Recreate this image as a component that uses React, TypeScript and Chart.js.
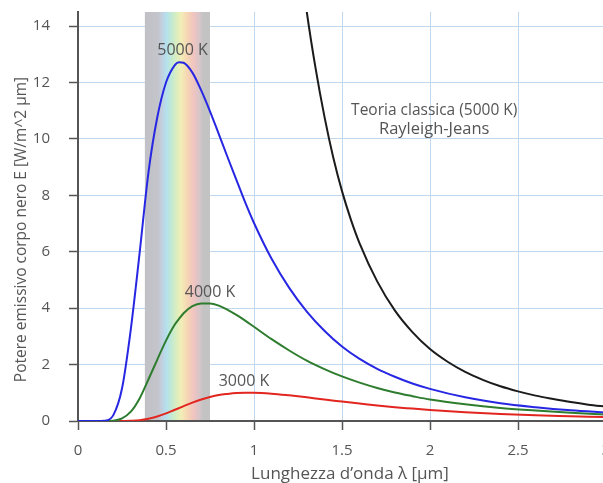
import React, { useEffect, useRef } from "react";
import { Chart, registerables } from "chart.js";

Chart.register(...registerables);

// Wavelength samples (µm) shared by the three Planck curves
const wavelengths = [
  0, 0.05, 0.1, 0.15, 0.2, 0.25, 0.3, 0.35, 0.4, 0.45, 0.5, 0.55, 0.575, 0.6, 0.65, 0.7, 0.75,
  0.8, 0.85, 0.9, 0.95, 1.0, 1.1, 1.2, 1.3, 1.4, 1.5, 1.6, 1.7, 1.8, 1.9, 2.0, 2.2, 2.4, 2.6,
  2.8, 3.0,
];
// Emissive power
const e5000 = [
  0, 0, 0, 0.01, 0.2, 1.15, 3.25, 5.95, 8.8, 10.75, 12.0, 12.62, 12.72, 12.7, 12.35, 11.72,
  10.98, 10.17, 9.35, 8.55, 7.75, 7.02, 5.75, 4.72, 3.88, 3.2, 2.64, 2.2, 1.85, 1.57, 1.33,
  1.14, 0.84, 0.63, 0.49, 0.38, 0.3,
];
const e4000 = [
  0, 0, 0, 0, 0.01, 0.09, 0.33, 0.8, 1.47, 2.17, 2.85, 3.42, 3.63, 3.82, 4.07, 4.17, 4.17,
  4.09, 3.94, 3.76, 3.56, 3.34, 2.9, 2.5, 2.14, 1.84, 1.58, 1.36, 1.17, 1.01, 0.88, 0.76, 0.59,
  0.46, 0.37, 0.29, 0.23,
];
const e3000 = [
  0, 0, 0, 0, 0, 0, 0.01, 0.03, 0.08, 0.16, 0.27, 0.4, 0.46, 0.53, 0.65, 0.76, 0.85, 0.92,
  0.96, 0.99, 1.0, 1.0, 0.97, 0.91, 0.84, 0.76, 0.69, 0.62, 0.55, 0.49, 0.44, 0.39, 0.31, 0.25,
  0.2, 0.17, 0.14,
];
// Rayleigh-Jeans (classical theory, 5000 K)
const rjWavelengths = [
  1.25, 1.3, 1.35, 1.4, 1.45, 1.5, 1.55, 1.6, 1.7, 1.8, 1.9, 2.0, 2.1, 2.2, 2.3, 2.4, 2.5,
  2.6, 2.7, 2.8, 2.9, 3.0,
];
const rj5000 = [
  16.9, 14.5, 12.5, 10.8, 9.35, 8.15, 7.15, 6.3, 4.95, 3.92, 3.15, 2.55, 2.1, 1.74, 1.46, 1.23,
  1.05, 0.9, 0.78, 0.67, 0.58, 0.51,
];

const xTicks = [0, 0.5, 1, 1.5, 2, 2.5, 3];
const yTicks = [0, 2, 4, 6, 8, 10, 12, 14];
const visibleBand = [0.38, 0.75];

const curveLabels = [
  { text: "5000 K", x: 0.594, y: 13.12, size: 16 },
  { text: "4000 K", x: 0.75, y: 4.57, size: 16 },
  { text: "3000 K", x: 0.943, y: 1.42, size: 16 },
  { text: "Teoria classica (5000 K)", x: 2.024, y: 11.02, size: 15.5 },
  { text: "Rayleigh-Jeans", x: 2.024, y: 10.35, size: 16.5 },
];

const FONT = "'Open Sans', 'Noto Sans', sans-serif";
const TEXT = "#555";
const GRID = "#bfd8ee";

const bandPlugin = {
  id: "band",
  beforeDatasetsDraw(chart: any) {
    const { ctx, chartArea, scales } = chart;
    const x0 = scales.x.getPixelForValue(visibleBand[0]);
    const x1 = scales.x.getPixelForValue(visibleBand[1]);
    const g = ctx.createLinearGradient(x0, 0, x1, 0);
    g.addColorStop(0, "#c0c0c6");
    g.addColorStop(0.2, "#c4c4cb");
    g.addColorStop(0.27, "#c0d2e2");
    g.addColorStop(0.33, "#b4e0ee");
    g.addColorStop(0.4, "#c0e9d6");
    g.addColorStop(0.48, "#d8eec0");
    g.addColorStop(0.56, "#f2edb6");
    g.addColorStop(0.65, "#f6d6b4");
    g.addColorStop(0.75, "#f0c4c1");
    g.addColorStop(0.84, "#d6c5c9");
    g.addColorStop(0.9, "#c3c3c4");
    g.addColorStop(1, "#c3c3c4");
    ctx.save();
    ctx.fillStyle = g;
    ctx.fillRect(x0, chartArea.top, x1 - x0, chartArea.bottom - chartArea.top - 1);
    ctx.restore();
  },
};

const textPlugin = {
  id: "texts",
  afterDatasetsDraw(chart: any) {
    const { ctx, scales, chartArea } = chart;
    ctx.save();
    ctx.fillStyle = TEXT;
    ctx.textAlign = "center";
    ctx.textBaseline = "middle";
    for (const l of curveLabels) {
      ctx.font = `${l.size}px ${FONT}`;
      ctx.fillText(l.text, scales.x.getPixelForValue(l.x), scales.y.getPixelForValue(l.y));
    }
    // x axis title
    ctx.font = `17px ${FONT}`;
    ctx.fillText("Lunghezza d’onda λ [µm]", (chartArea.left + chartArea.right) / 2 + 8, chartArea.bottom + 53);
    // y axis title
    ctx.font = `15.5px ${FONT}`;
    ctx.translate(chartArea.left - 56, (chartArea.top + chartArea.bottom) / 2 + 13);
    ctx.rotate(-Math.PI / 2);
    ctx.fillText("Potere emissivo corpo nero E [W/m^2 µm]", 0, 0);
    ctx.restore();
  },
};

export default function App() {
  const ref = useRef<HTMLCanvasElement | null>(null);
  useEffect(() => {
    if (!ref.current) return;
    const mk = (xs: number[], ys: number[]) => xs.map((x, i) => ({ x, y: ys[i] }));
    const common = {
      borderWidth: 2,
      pointRadius: 0,
      fill: false,
      cubicInterpolationMode: "monotone" as const,
    };
    const chart = new Chart(ref.current, {
      type: "line",
      data: {
        datasets: [
          { ...common, label: "5000 K", data: mk(wavelengths, e5000), borderColor: "#2727e3" },
          { ...common, label: "4000 K", data: mk(wavelengths, e4000), borderColor: "#2e7d2e" },
          { ...common, label: "3000 K", data: mk(wavelengths, e3000), borderColor: "#e2261f" },
          { ...common, label: "Rayleigh-Jeans", data: mk(rjWavelengths, rj5000), borderColor: "#1b1b1b" },
        ],
      },
      options: {
        animation: false,
        responsive: false,
        devicePixelRatio: 1,
        layout: { padding: { top: 12, right: 14, bottom: 0, left: 0 } },
        plugins: { legend: { display: false }, tooltip: { enabled: false } },
        scales: {
          x: {
            type: "linear",
            min: 0,
            max: 3,
            afterBuildTicks: (axis: any) => {
              axis.ticks = xTicks.map((v) => ({ value: v }));
            },
            afterFit: (axis: any) => {
              axis.height = 62;
              axis.paddingLeft = 0;
              axis.paddingRight = 0;
            },
            ticks: {
              color: TEXT,
              font: { family: FONT, size: 15 },
              padding: 12,
              maxRotation: 0,
              autoSkip: false,
              callback: (v: any) => String(v),
            },
            grid: {
              color: GRID,
              lineWidth: 1,
              tickColor: "#555",
              tickLength: 9,
              tickWidth: 1.5,
            },
            border: { color: "#555", width: 2 },
          },
          y: {
            type: "linear",
            min: 0,
            max: 14.5,
            afterBuildTicks: (axis: any) => {
              axis.ticks = yTicks.map((v) => ({ value: v }));
            },
            afterFit: (axis: any) => {
              axis.width = 78;
              axis.paddingTop = 0;
              axis.paddingBottom = 0;
            },
            ticks: {
              color: TEXT,
              font: { family: FONT, size: 15 },
              padding: 19,
              autoSkip: false,
              callback: (v: any) => String(v),
            },
            grid: {
              color: GRID,
              lineWidth: 1,
              tickColor: "#555",
              tickLength: 9,
              tickWidth: 1.5,
            },
            border: { color: "#555", width: 2 },
          },
        },
      },
      plugins: [bandPlugin, textPlugin],
    });
    return () => chart.destroy();
  }, []);
  return (
    <div
      style={{
        position: "fixed",
        left: 0,
        top: 0,
        width: 603,
        height: 483,
        overflow: "hidden",
        background: "#fff",
      }}
    >
      <canvas ref={ref} width={620} height={483} style={{ width: 620, height: 483, display: "block" }} />
    </div>
  );
}
